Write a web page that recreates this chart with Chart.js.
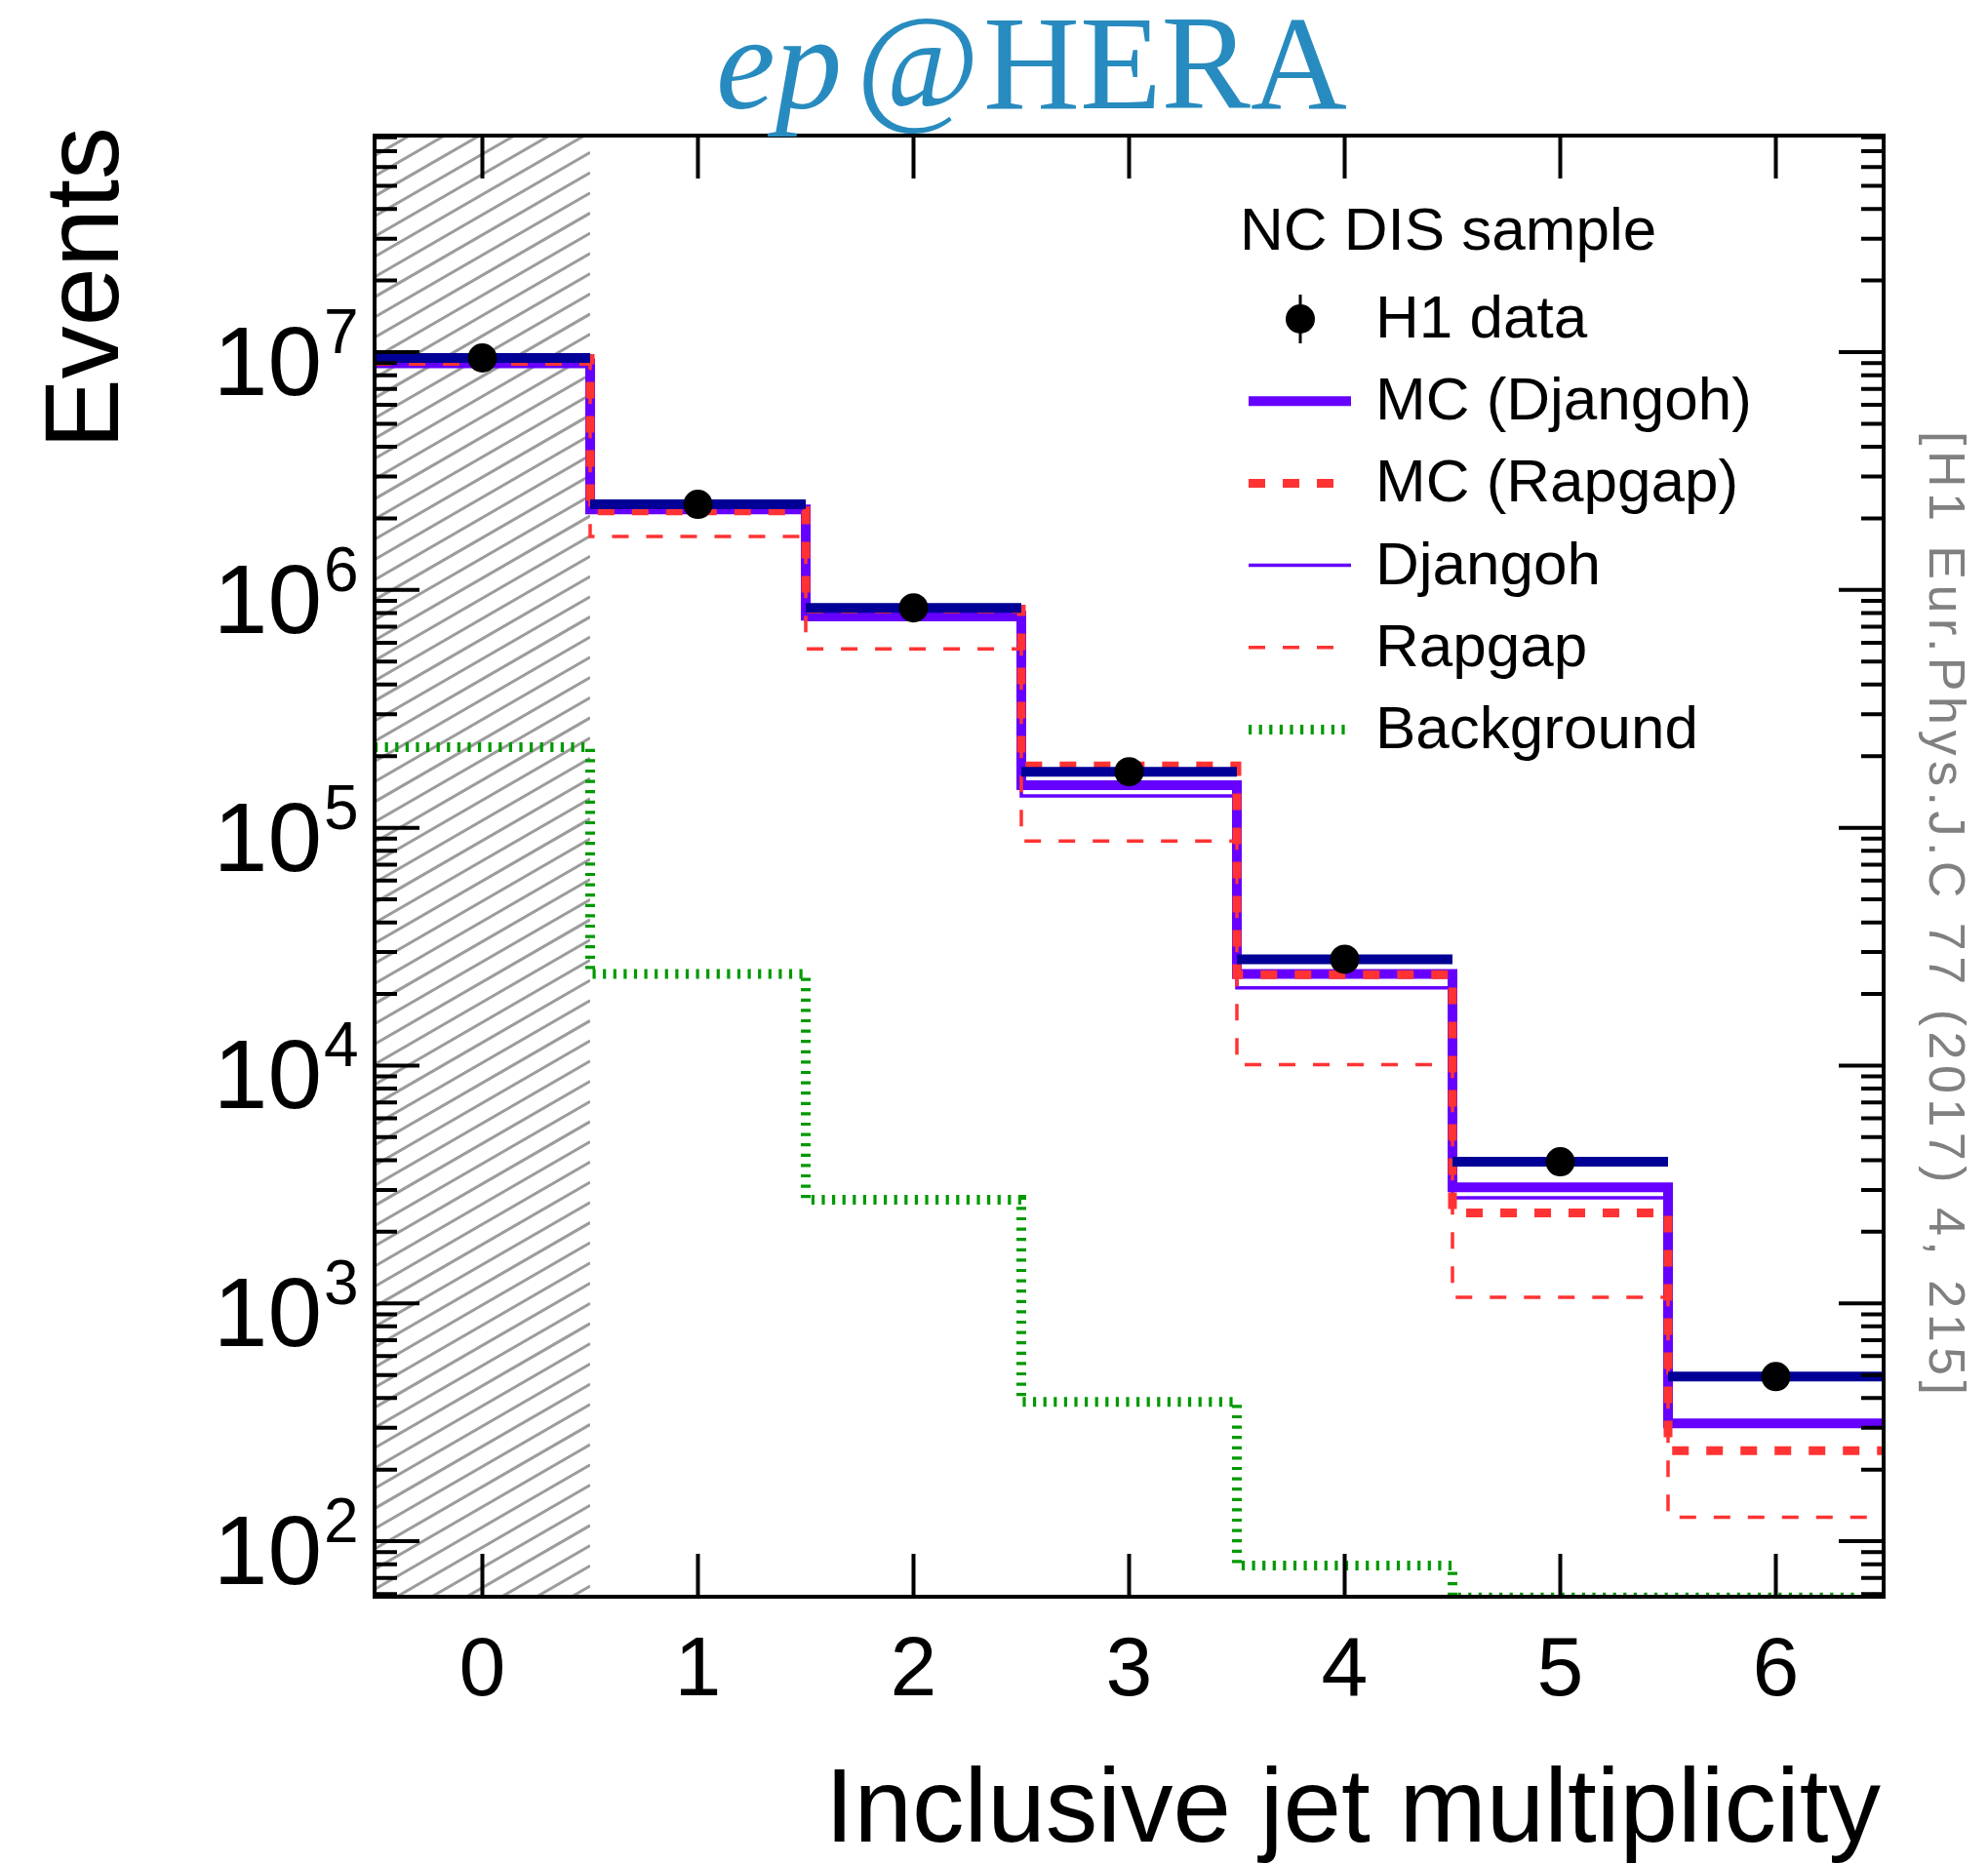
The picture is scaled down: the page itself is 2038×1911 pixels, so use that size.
<!DOCTYPE html>
<html>
<head>
<meta charset="utf-8">
<title>ep@HERA – Inclusive jet multiplicity</title>
<script src="https://cdn.jsdelivr.net/npm/chart.js@4.4.1/dist/chart.umd.min.js"></script>
<style>
  html, body { margin: 0; padding: 0; background: #ffffff; }
  canvas { display: block; }
</style>
</head>
<body>
<canvas id="jets" width="2038" height="1911"></canvas>
<script>
// Inclusive jet multiplicity in the NC DIS sample
const multiplicity = [0, 1, 2, 3, 4, 5, 6];
const xTickLabels  = ['0', '1', '2', '3', '4', '5', '6'];
const h1Data     = [9.45e6, 2.29e6, 8.41e5, 1.72e5, 2.80e4, 3.94e3, 492];
const mcDjangoh  = [8.97e6, 2.18e6, 7.80e5, 1.51e5, 2.43e4, 3.08e3, 313];
const mcRapgap   = [9.40e6, 2.15e6, 8.30e5, 1.82e5, 2.41e4, 2.40e3, 240];
const djangoh    = [8.90e6, 2.14e6, 7.50e5, 1.36e5, 2.12e4, 2.78e3, 306];
const rapgap     = [8.90e6, 1.68e6, 5.65e5, 8.80e4, 1.01e4, 1.06e3, 126];
const background = [2.18e5, 2.43e4, 2.73e3, 385, 79, 58, 58];

// axis ranges and ticks
const xRange = [-0.5, 6.5];
const yRange = [58.4, 8.14e7];
const yLabelExponents = [2, 3, 4, 5, 6, 7];
const yTickDecades = [1, 2, 3, 4, 5, 6, 7];
const yMinorSteps = [2, 3, 4, 5, 6, 7, 8, 9];
const excludedBins = [0];          // hatched bin, not used in the analysis
const binHalfWidth = 0.5;

const NAVY = '#000096', VIOLET = '#6600ff', RED = '#ff3333', GREEN = '#009900';
const SANS = '"Liberation Sans", Arial, Helvetica, sans-serif';
const SERIF = '"Liberation Serif", "Times New Roman", serif';

// histogram outline: one point per left bin edge plus the closing edge
function histPoints(vals) {
  const pts = vals.map((v, i) => ({ x: multiplicity[i] - binHalfWidth, y: v }));
  pts.push({ x: multiplicity[multiplicity.length - 1] + binHalfWidth, y: vals[vals.length - 1] });
  return pts;
}
// separate horizontal bars spanning each bin
function barPoints(vals) {
  const pts = [];
  vals.forEach((v, i) => {
    pts.push({ x: multiplicity[i] - binHalfWidth, y: v },
             { x: multiplicity[i] + binHalfWidth, y: v },
             { x: multiplicity[i] + binHalfWidth, y: null });
  });
  return pts;
}

const stepStyle = { stepped: 'before', pointRadius: 0, borderJoinStyle: 'miter', borderCapStyle: 'butt', fill: false, tension: 0 };

const datasets = [
  { label: 'H1 data', data: multiplicity.map((m, i) => ({ x: m, y: h1Data[i] })),
    showLine: false, pointRadius: 15, pointBackgroundColor: '#000', pointBorderWidth: 0, order: 0 },
  { label: 'H1 data bins', data: barPoints(h1Data), borderColor: NAVY, borderWidth: 10,
    pointRadius: 0, spanGaps: false, borderCapStyle: 'butt', order: 1 },
  { label: 'Rapgap', data: histPoints(rapgap), borderColor: RED, borderWidth: 3.5,
    borderDash: [17, 18], ...stepStyle, order: 2 },
  { label: 'MC (Rapgap)', data: histPoints(mcRapgap), borderColor: RED, borderWidth: 9,
    borderDash: [17, 18], ...stepStyle, order: 3 },
  { label: 'Djangoh', data: histPoints(djangoh), borderColor: VIOLET, borderWidth: 3.5,
    ...stepStyle, order: 4 },
  { label: 'MC (Djangoh)', data: histPoints(mcDjangoh), borderColor: VIOLET, borderWidth: 10,
    ...stepStyle, order: 5 },
  { label: 'Background', data: histPoints(background), borderColor: GREEN, borderWidth: 10,
    borderDash: [3.2, 7.4], ...stepStyle, order: 6 }
];

// hatched band over the excluded bin(s)
const hatch = {
  id: 'hatch',
  beforeDatasetsDraw(chart) {
    const { ctx, chartArea: a, scales: { x } } = chart;
    ctx.save();
    for (const b of excludedBins) {
      const x0 = x.getPixelForValue(b - binHalfWidth), x1 = x.getPixelForValue(b + binHalfWidth);
      ctx.beginPath();
      ctx.rect(x0, a.top, x1 - x0, a.bottom - a.top);
      ctx.clip();
      ctx.strokeStyle = '#9c9c9c';
      ctx.lineWidth = 3;
      const rise = (x1 - x0) * Math.tan(Math.PI / 6), gap = 20.7;
      ctx.beginPath();
      for (let c = a.top - rise - gap; c < a.bottom + gap; c += gap) {
        ctx.moveTo(x0, c + rise);
        ctx.lineTo(x1, c);
      }
      ctx.stroke();
    }
    ctx.restore();
  }
};

// frame, inward ticks on all four sides, tick labels
const frame = {
  id: 'frame',
  afterDatasetsDraw(chart) {
    const { ctx, chartArea: a, scales: { x, y } } = chart;
    ctx.save();
    ctx.strokeStyle = '#000';
    ctx.lineWidth = 4;
    ctx.lineCap = 'butt';
    ctx.beginPath();
    for (const v of multiplicity) {
      const px = x.getPixelForValue(v);
      ctx.moveTo(px, a.bottom); ctx.lineTo(px, a.bottom - 44);
      ctx.moveTo(px, a.top);    ctx.lineTo(px, a.top + 44);
    }
    for (const d of yTickDecades) {
      for (const m of [1, ...yMinorSteps]) {
        const v = m * Math.pow(10, d);
        if (v < yRange[0] || v > yRange[1]) continue;
        const py = y.getPixelForValue(v);
        const len = m === 1 ? 46 : 23;
        ctx.moveTo(a.left, py);  ctx.lineTo(a.left + len, py);
        ctx.moveTo(a.right, py); ctx.lineTo(a.right - len, py);
      }
    }
    ctx.stroke();
    ctx.strokeRect(a.left, a.top, a.right - a.left, a.bottom - a.top);

    ctx.fillStyle = '#000';
    ctx.textBaseline = 'alphabetic';
    ctx.font = '86px ' + SANS;
    ctx.textAlign = 'center';
    multiplicity.forEach((v, i) => ctx.fillText(xTickLabels[i], x.getPixelForValue(v), 1738));

    for (const e of yLabelExponents) {
      const py = y.getPixelForValue(Math.pow(10, e));
      ctx.font = '100px ' + SANS;
      ctx.textAlign = 'right';
      ctx.fillText('10', 330, py + 44);
      ctx.font = '64px ' + SANS;
      ctx.textAlign = 'left';
      ctx.fillText(String(e), 332, py + 1);
    }
    ctx.restore();
  }
};

// title, axis titles, legend and reference
const annotations = {
  id: 'annotations',
  afterDraw(chart) {
    const { ctx } = chart;
    ctx.save();
    ctx.fillStyle = '#288bbf';
    ctx.textAlign = 'left';
    ctx.textBaseline = 'alphabetic';
    ctx.font = 'italic 137px ' + SERIF;
    ctx.fillText('ep', 734, 111);
    ctx.font = '137px ' + SERIF;
    ctx.fillText('@', 878, 111);
    ctx.fillText('HERA', 1008, 111);

    ctx.fillStyle = '#000';
    ctx.font = '107px ' + SANS;
    ctx.textAlign = 'right';
    ctx.fillText('Inclusive jet multiplicity', 1928, 1888);

    ctx.save();
    ctx.translate(121, 130);
    ctx.rotate(-Math.PI / 2);
    ctx.font = '108px ' + SANS;
    ctx.textAlign = 'right';
    ctx.fillText('Events', 0, 0);
    ctx.restore();

    // legend
    ctx.font = '62px ' + SANS;
    ctx.textAlign = 'left';
    ctx.fillText('NC DIS sample', 1271, 256);
    const entries = ['H1 data', 'MC (Djangoh)', 'MC (Rapgap)', 'Djangoh', 'Rapgap', 'Background'];
    entries.forEach((name, i) => {
      const base = 346 + i * 84.2;
      const mid = base - 19;
      const ds = chart.data.datasets.find(d => d.label === name);
      if (name === 'H1 data') {
        ctx.strokeStyle = '#000';
        ctx.lineWidth = 3;
        ctx.setLineDash([]);
        ctx.beginPath();
        ctx.moveTo(1333, mid - 25); ctx.lineTo(1333, mid + 25);
        ctx.stroke();
        ctx.beginPath();
        ctx.arc(1333, mid, 15, 0, Math.PI * 2);
        ctx.fill();
      } else {
        ctx.strokeStyle = ds.borderColor;
        ctx.lineWidth = ds.borderWidth;
        ctx.lineCap = 'butt';
        ctx.setLineDash(ds.borderDash || []);
        ctx.beginPath();
        ctx.moveTo(1280, mid); ctx.lineTo(1385, mid);
        ctx.stroke();
        ctx.setLineDash([]);
      }
      ctx.fillStyle = '#000';
      ctx.fillText(name, 1410, base);
    });

    // publication reference along the right edge
    ctx.save();
    ctx.translate(1978, 442);
    ctx.rotate(Math.PI / 2);
    ctx.fillStyle = '#808080';
    ctx.font = '52px ' + SANS;
    const ref = '[H1 Eur.Phys.J.C 77 (2017) 4, 215]';
    const w = ctx.measureText(ref).width;
    ctx.letterSpacing = ((988 - w) / (ref.length - 1)).toFixed(2) + 'px';
    ctx.textAlign = 'left';
    ctx.fillText(ref, 0, 0);
    ctx.restore();

    ctx.restore();
  }
};

new Chart(document.getElementById('jets'), {
  type: 'line',
  data: { datasets },
  options: {
    responsive: false,
    devicePixelRatio: 1,
    animation: false,
    events: [],
    layout: { padding: { left: 384, top: 139, right: 107, bottom: 274 } },
    plugins: { legend: { display: false }, tooltip: { enabled: false }, title: { display: false } },
    scales: {
      x: { type: 'linear', min: xRange[0], max: xRange[1], display: false },
      y: { type: 'logarithmic', min: yRange[0], max: yRange[1], display: false }
    }
  },
  plugins: [hatch, frame, annotations]
});
</script>
</body>
</html>
